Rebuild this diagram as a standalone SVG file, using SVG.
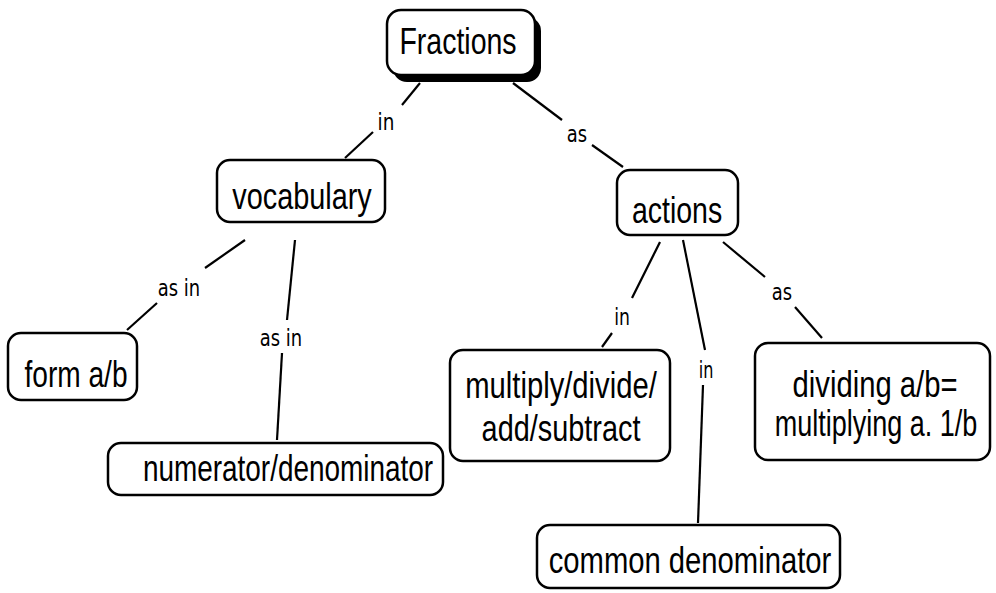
<svg xmlns="http://www.w3.org/2000/svg" width="996" height="593" viewBox="0 0 996 593">
<style>
.box{fill:#fff;stroke:#000;stroke-width:2.5}
.nt{font-family:"Liberation Sans",Arial,sans-serif;font-size:37px;fill:#000;text-anchor:middle}
.lb{font-family:"DejaVu Sans","Liberation Sans",sans-serif;font-size:23px;fill:#000;text-anchor:middle}
.c line{stroke:#000;stroke-width:2.2}
</style>
<rect width="996" height="593" fill="#fff"/>
<g class="c" id="connectors">
<line x1="420" y1="83" x2="402" y2="105"/>
<line x1="373" y1="132" x2="345" y2="158"/>
<line x1="513" y1="83" x2="562" y2="120"/>
<line x1="592" y1="145" x2="623" y2="167"/>
<line x1="245" y1="240" x2="205" y2="268"/>
<line x1="157" y1="303" x2="127" y2="330"/>
<line x1="295" y1="240" x2="287" y2="320"/>
<line x1="282" y1="353" x2="277" y2="440"/>
<line x1="660" y1="242" x2="632" y2="298"/>
<line x1="612" y1="333" x2="602" y2="347"/>
<line x1="683" y1="240" x2="705" y2="350"/>
<line x1="703" y1="385" x2="698" y2="523"/>
<line x1="723" y1="242" x2="765" y2="277"/>
<line x1="795" y1="307" x2="822" y2="338"/>
<text class="lb" transform="translate(386 130) scale(0.8 1)">in</text>
<text class="lb" transform="translate(577 142) scale(0.78 1)">as</text>
<text class="lb" transform="translate(179 296) scale(0.78 1)">as in</text>
<text class="lb" transform="translate(281 346) scale(0.78 1)">as in</text>
<text class="lb" transform="translate(622 325) scale(0.75 1)">in</text>
<text class="lb" transform="translate(706 378) scale(0.7 1)">in</text>
<text class="lb" transform="translate(782 300) scale(0.78 1)">as</text>
</g>
<g id="fractions">
<rect x="393" y="17" width="148" height="65" rx="14" fill="#000"/>
<rect class="box" x="387" y="10" width="148" height="65" rx="14"/>
<text class="nt" transform="translate(458 54) scale(0.77 1)">Fractions</text>
</g>
<g id="vocabulary">
<rect class="box" x="217" y="160" width="168" height="62" rx="13"/>
<text class="nt" transform="translate(302 209) scale(0.78 1)">vocabulary</text>
</g>
<g id="actions">
<rect class="box" x="617" y="170" width="121" height="65" rx="13"/>
<text class="nt" transform="translate(677 223) scale(0.77 1)">actions</text>
</g>
<g id="form">
<rect class="box" x="8" y="333" width="129" height="67" rx="13"/>
<text class="nt" transform="translate(76 387) scale(0.76 1)">form a/b</text>
</g>
<g id="numerator">
<rect class="box" x="108" y="443" width="335" height="52" rx="13"/>
<text class="nt" transform="translate(288 481) scale(0.755 1)">numerator/denominator</text>
</g>
<g id="multiply">
<rect class="box" x="450" y="350" width="220" height="111" rx="13"/>
<text class="nt" transform="translate(561 398) scale(0.79 1)">multiply/divide/</text>
<text class="nt" transform="translate(561 441) scale(0.78 1)">add/subtract</text>
</g>
<g id="dividing">
<rect class="box" x="755" y="343" width="235" height="117" rx="13"/>
<text class="nt" transform="translate(875 397) scale(0.79 1)">dividing a/b=</text>
<text class="nt" transform="translate(876 436) scale(0.73 1)">multiplying a. 1/b</text>
</g>
<g id="common">
<rect class="box" x="537" y="525" width="303" height="63" rx="13"/>
<text class="nt" transform="translate(690 573) scale(0.79 1)">common denominator</text>
</g>
</svg>
